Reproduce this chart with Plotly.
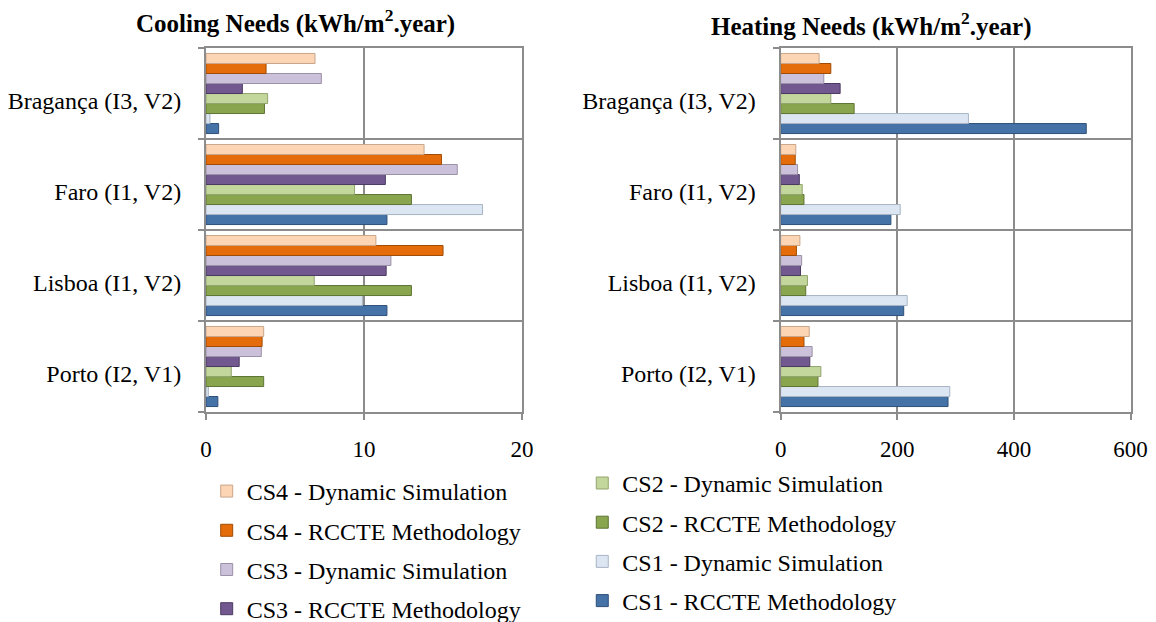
import plotly.graph_objects as go
from plotly.subplots import make_subplots

cities = ["Porto (I2, V1)", "Lisboa (I1, V2)", "Faro (I1, V2)", "Bragança (I3, V2)"]

series = ["CS1 - RCCTE Methodology", "CS1 - Dynamic Simulation",
          "CS2 - RCCTE Methodology", "CS2 - Dynamic Simulation",
          "CS3 - RCCTE Methodology", "CS3 - Dynamic Simulation",
          "CS4 - RCCTE Methodology", "CS4 - Dynamic Simulation"]
colors = ["#4572A7", "#DCE6F2", "#89A54E", "#C3D69B",
          "#71588F", "#CCC1DA", "#E46C0A", "#FCD5B5"]
edge = ["#2E4F78", "#A8B4C4", "#5E7434", "#93A56F",
        "#4B3A62", "#9A91A6", "#A04C06", "#C9A68A"]
legend_of = ["legend2", "legend2", "legend2", "legend2",
             "legend", "legend", "legend", "legend"]
legend_rank = [4, 3, 2, 1, 4, 3, 2, 1]

# Cooling needs (kWh/m2.year) per city: Porto, Lisboa, Faro, Bragança
cool_cs1_rccte = [0.75, 11.45, 11.45, 0.8]
cool_cs1_dyn = [0.15, 9.9, 17.5, 0.25]
cool_cs2_rccte = [3.65, 13.0, 13.0, 3.7]
cool_cs2_dyn = [1.6, 6.85, 9.4, 3.9]
cool_cs3_rccte = [2.1, 11.4, 11.35, 2.3]
cool_cs3_dyn = [3.5, 11.7, 15.9, 7.3]
cool_cs4_rccte = [3.55, 15.0, 14.9, 3.8]
cool_cs4_dyn = [3.65, 10.75, 13.8, 6.9]

# Heating needs (kWh/m2.year)
heat_cs1_rccte = [287, 211, 189, 524]
heat_cs1_dyn = [290, 217, 205, 322]
heat_cs2_rccte = [64, 43, 40, 126]
heat_cs2_dyn = [69, 46, 37, 86]
heat_cs3_rccte = [50, 34, 32, 102]
heat_cs3_dyn = [54, 36, 29, 74]
heat_cs4_rccte = [40, 27, 25, 86]
heat_cs4_dyn = [49, 33, 26, 66]

cooling = [cool_cs1_rccte, cool_cs1_dyn, cool_cs2_rccte, cool_cs2_dyn,
           cool_cs3_rccte, cool_cs3_dyn, cool_cs4_rccte, cool_cs4_dyn]
heating = [heat_cs1_rccte, heat_cs1_dyn, heat_cs2_rccte, heat_cs2_dyn,
           heat_cs3_rccte, heat_cs3_dyn, heat_cs4_rccte, heat_cs4_dyn]

ypos = list(range(len(cities)))
# labels sit slightly below the band centre, as in the 3-D original
label_pos = [p - 0.08 for p in ypos]
FONT = "Liberation Serif, Times New Roman, serif"

fig = make_subplots(rows=1, cols=2, horizontal_spacing=0.2)

for i, name in enumerate(series):
    fig.add_trace(go.Bar(
        y=ypos, x=cooling[i], orientation="h", name=name,
        marker=dict(color=colors[i], line=dict(color=edge[i], width=1)),
        legend=legend_of[i], legendgroup=name, legendrank=legend_rank[i],
        showlegend=True,
    ), row=1, col=1)
    fig.add_trace(go.Bar(
        y=ypos, x=heating[i], orientation="h", name=name,
        marker=dict(color=colors[i], line=dict(color=edge[i], width=1)),
        legend=legend_of[i], legendgroup=name, legendrank=legend_rank[i],
        showlegend=False,
    ), row=1, col=2)

grid = "#8C8C8C"
common_y = dict(
    tickmode="array", tickvals=label_pos, ticktext=cities, range=[-0.5, 3.5],
    showgrid=False, showline=True, mirror=True, linecolor=grid, linewidth=2,
    ticks="", ticklabelstandoff=18,
    minor=dict(tickvals=[-0.5, 0.5, 1.5, 2.5, 3.5], showgrid=True,
               gridcolor=grid, gridwidth=2, ticks="outside", ticklen=6,
               tickcolor=grid, tickwidth=2),
    tickfont=dict(family=FONT, size=24, color="#000"), zeroline=False,
)
fig.update_yaxes(**common_y, row=1, col=1)
fig.update_yaxes(**common_y, row=1, col=2)

common_x = dict(
    showgrid=True, gridcolor=grid, gridwidth=2, showline=True, mirror=True,
    linecolor=grid, linewidth=2, zeroline=False, ticks="outside", ticklen=6,
    tickcolor=grid, tickwidth=2, ticklabelstandoff=9,
    tickfont=dict(family=FONT, size=23, color="#000"),
)
fig.update_xaxes(**common_x, range=[0, 20], tickvals=[0, 10, 20], row=1, col=1)
fig.update_xaxes(**common_x, range=[0, 600], tickvals=[0, 200, 400, 600], row=1, col=2)

fig.update_layout(
    width=1156, height=622,
    margin=dict(l=0, r=0, t=0, b=0, autoexpand=False),
    paper_bgcolor="white", plot_bgcolor="white",
    barmode="group", bargap=0.12, bargroupgap=0.0,
    xaxis=dict(domain=[0.1782, 0.4516]),
    xaxis2=dict(domain=[0.6753, 0.978]),
    yaxis=dict(domain=[0.3376, 0.9228]),
    yaxis2=dict(domain=[0.3376, 0.9228]),
    legend=dict(x=0.1788, y=0.246, xanchor="left", yanchor="top",
                traceorder="grouped", tracegroupgap=5,
                font=dict(family=FONT, size=24, color="#000"),
                bgcolor="rgba(0,0,0,0)"),
    legend2=dict(x=0.5037, y=0.259, xanchor="left", yanchor="top",
                 traceorder="grouped", tracegroupgap=5,
                 font=dict(family=FONT, size=24, color="#000"),
                 bgcolor="rgba(0,0,0,0)"),
    annotations=[
        dict(text="<b>Cooling Needs (kWh/m<sup>2</sup>.year)</b>", x=295 / 1156, y=1 - 22 / 622,
             xref="paper", yref="paper", showarrow=False, xanchor="center", yanchor="middle",
             font=dict(family=FONT, size=25, color="#000")),
        dict(text="<b>Heating Needs (kWh/m<sup>2</sup>.year)</b>", x=871 / 1156, y=1 - 24 / 622,
             xref="paper", yref="paper", showarrow=False, xanchor="center", yanchor="middle",
             font=dict(family=FONT, size=25, color="#000")),
    ],
)

post = (
    "var s=document.createElement('style');"
    "s.textContent='html,body{margin:0;padding:0;overflow:hidden;}"
    ".plotly-graph-div{display:block;}';"
    "document.head.appendChild(s);"
)

fig.write_html(
    "out.html",
    config={"displayModeBar": False},
    post_script=post,
)
